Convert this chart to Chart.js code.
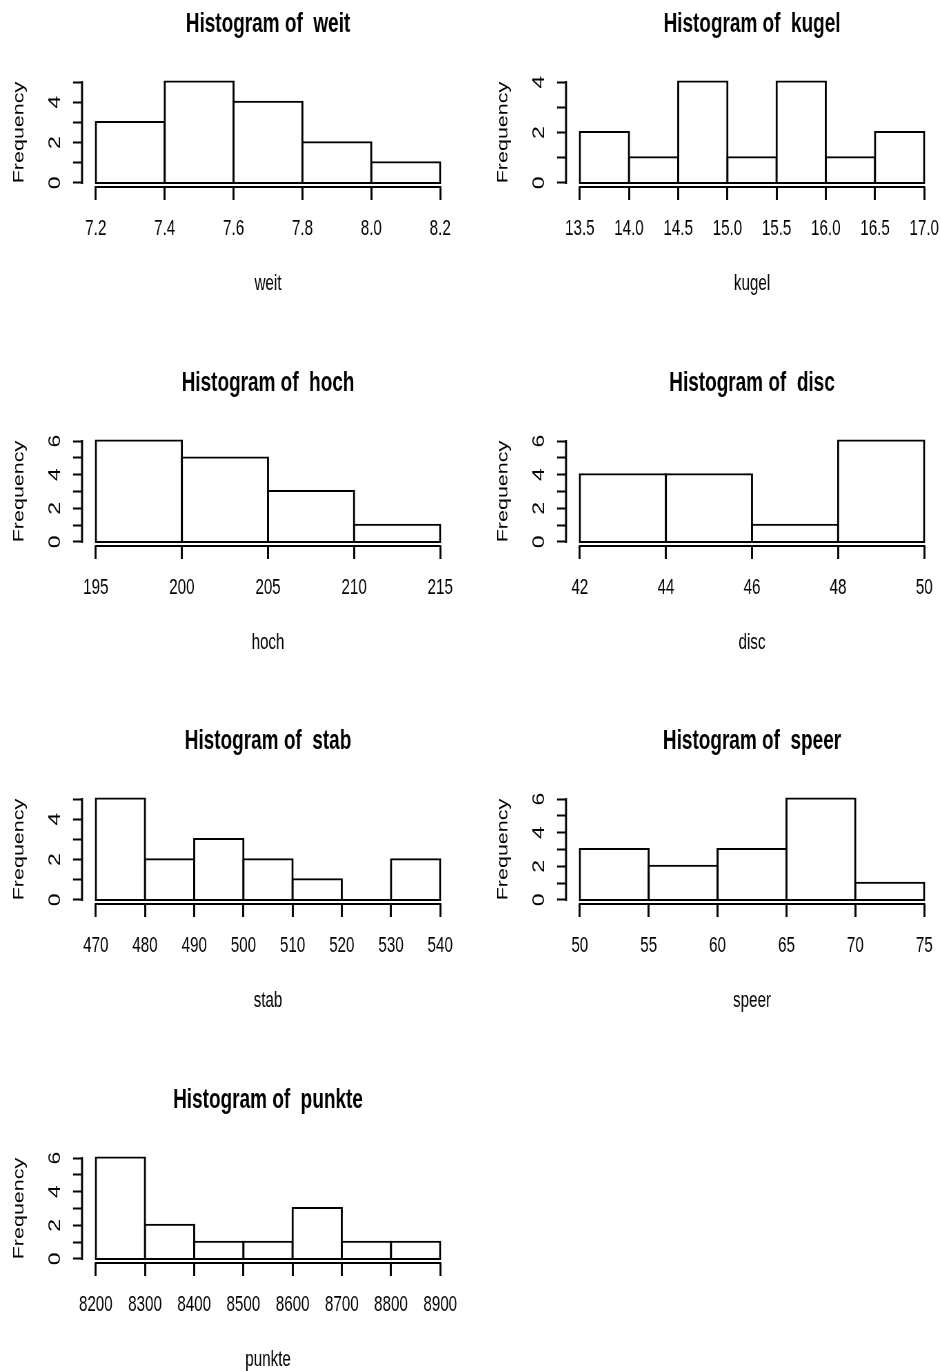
<!DOCTYPE html>
<html>
<head>
<meta charset="utf-8">
<script src="https://cdn.jsdelivr.net/npm/chart.js@4.4.1/dist/chart.umd.min.js"></script>
<style>
  body { margin: 0; width: 941px; height: 1371px; overflow: hidden; background: #fff; position: relative; }
  canvas { position: absolute; }
</style>
</head>
<body>
<script>
// histogram data: breaks, counts per bin, axis labels

const weitBreaks = [7.2, 7.4, 7.6, 7.8, 8.0, 8.2];
const weitCounts = [3, 5, 4, 2, 1];
const weitLabels = ['7.2', '7.4', '7.6', '7.8', '8.0', '8.2'];

const kugelBreaks = [13.5, 14.0, 14.5, 15.0, 15.5, 16.0, 16.5, 17.0];
const kugelCounts = [2, 1, 4, 1, 4, 1, 2];
const kugelLabels = ['13.5', '14.0', '14.5', '15.0', '15.5', '16.0', '16.5', '17.0'];

const hochBreaks = [195, 200, 205, 210, 215];
const hochCounts = [6, 5, 3, 1];
const hochLabels = ['195', '200', '205', '210', '215'];

const discBreaks = [42, 44, 46, 48, 50];
const discCounts = [4, 4, 1, 6];
const discLabels = ['42', '44', '46', '48', '50'];

const stabBreaks = [470, 480, 490, 500, 510, 520, 530, 540];
const stabCounts = [5, 2, 3, 2, 1, 0, 2];
const stabLabels = ['470', '480', '490', '500', '510', '520', '530', '540'];

const speerBreaks = [50, 55, 60, 65, 70, 75];
const speerCounts = [3, 2, 3, 6, 1];
const speerLabels = ['50', '55', '60', '65', '70', '75'];

const punkteBreaks = [8200, 8300, 8400, 8500, 8600, 8700, 8800, 8900];
const punkteCounts = [6, 2, 1, 1, 3, 1, 1];
const punkteLabels = ['8200', '8300', '8400', '8500', '8600', '8700', '8800', '8900'];

// y axis ticks (R draws every integer, labels only every other one)
const yTicks4 = [0, 1, 2, 3, 4];
const yLabels4 = ['0', '', '2', '', '4'];
const yTicks5 = [0, 1, 2, 3, 4, 5];
const yLabels5 = ['0', '', '2', '', '4', ''];
const yTicks6 = [0, 1, 2, 3, 4, 5, 6];
const yLabels6 = ['0', '', '2', '', '4', '', '6'];

const FONT = "'Liberation Sans', Arial, sans-serif";

// the original picture is squeezed horizontally; draw wide and shrink with css
const K = 1.45;
const PANEL_W = 536, PANEL_H = 359;

// R style axis lines: only from first to last tick
const axisLines = {
    id: 'axisLines',
    afterDraw(chart) {
        const { ctx, scales: { x, y } } = chart;
        const xt = x.ticks, yt = y.ticks;
        ctx.save();
        ctx.strokeStyle = '#000';
        ctx.lineCap = 'butt';
        ctx.lineWidth = 2;
        ctx.beginPath();
        ctx.moveTo(x.getPixelForValue(xt[0].value) - K, x.top);
        ctx.lineTo(x.getPixelForValue(xt[xt.length - 1].value) + K, x.top);
        ctx.stroke();
        ctx.lineWidth = 2 * K;
        ctx.beginPath();
        ctx.moveTo(y.right, y.getPixelForValue(yt[0].value) + 1);
        ctx.lineTo(y.right, y.getPixelForValue(yt[yt.length - 1].value) - 1);
        ctx.stroke();
        ctx.restore();
    }
};

function makeHist(name, breaks, counts, xLabels, yTicks, yLabels, left, top) {
    const canvas = document.createElement('canvas');
    canvas.width = Math.round(PANEL_W * K);
    canvas.height = PANEL_H;
    canvas.style.width = PANEL_W + 'px';
    canvas.style.height = PANEL_H + 'px';
    canvas.style.left = left + 'px';
    canvas.style.top = top + 'px';
    document.body.appendChild(canvas);

    const lo = breaks[0], hi = breaks[breaks.length - 1];
    const xPad = (hi - lo) * 0.04;
    const ymax = Math.max(...counts);

    const points = counts.map((c, i) => ({ x: (breaks[i] + breaks[i + 1]) / 2, y: c }));

    new Chart(canvas, {
        type: 'bar',
        data: {
            datasets: [{
                data: points,
                backgroundColor: '#fff',
                borderColor: '#000',
                borderWidth: { top: 2, bottom: 2, left: 2 * K, right: 2 * K },
                borderSkipped: false,
                // empty bins still show as a line on the base, like R's rect()
                inflateAmount: c => (c.raw && c.raw.y === 0 ? 0 : K),
                barPercentage: 1,
                categoryPercentage: 1,
                minBarLength: 2
            }]
        },
        options: {
            responsive: false,
            animation: false,
            devicePixelRatio: 1,
            events: [],
            layout: { padding: 0 },
            plugins: {
                legend: { display: false },
                tooltip: { enabled: false },
                title: {
                    display: true,
                    text: 'Histogram of  ' + name,
                    color: '#000',
                    font: { family: FONT, size: 27.5, weight: 'bold' },
                    padding: { top: 8, bottom: 37 }
                }
            },
            scales: {
                x: {
                    type: 'linear',
                    position: 'bottom',
                    min: lo - xPad,
                    max: hi + xPad,
                    offset: false,
                    afterBuildTicks: s => { s.ticks = breaks.map(v => ({ value: v })); },
                    afterFit: s => { s.height = 172; },
                    grid: { offset: false, drawOnChartArea: false, drawTicks: true, tickLength: 13, tickWidth: 2 * K, tickColor: '#000' },
                    border: { display: false },
                    ticks: {
                        autoSkip: false, minRotation: 0, maxRotation: 0, padding: 15.5, color: '#000',
                        font: { family: FONT, size: 22 },
                        callback: (v, i) => xLabels[i]
                    },
                    title: { display: true, text: name, color: '#000', font: { family: FONT, size: 22 }, padding: { top: 0, bottom: 62 } }
                },
                y: {
                    type: 'linear',
                    position: 'left',
                    min: -ymax * 0.04,
                    max: ymax * 1.04,
                    afterBuildTicks: s => { s.ticks = yTicks.map(v => ({ value: v })); },
                    afterFit: s => { s.width = 82 * K; },
                    grid: { drawOnChartArea: false, drawTicks: true, tickLength: 9 * K, tickWidth: 2, tickColor: '#000' },
                    border: { display: false },
                    ticks: {
                        autoSkip: false, minRotation: 90, maxRotation: 90, crossAlign: 'center', padding: 18.5, color: '#000',
                        font: { family: FONT, size: 23 },
                        callback: (v, i) => yLabels[i]
                    },
                    title: { display: true, text: 'Frequency', color: '#000', font: { family: FONT, size: 21.5 }, padding: { top: 15, bottom: 0 } }
                },
                // empty right margin so the title centres over the plot like R does
                spacer: {
                    type: 'linear',
                    position: 'right',
                    display: true,
                    afterFit: s => { s.width = 82 * K; },
                    grid: { display: false },
                    border: { display: false },
                    ticks: { display: false }
                }
            }
        },
        plugins: [axisLines]
    });
}

const colX = [0, 484];
const rowY = [0, 359, 717, 1076];

makeHist('weit', weitBreaks, weitCounts, weitLabels, yTicks5, yLabels5, colX[0], rowY[0]);
makeHist('kugel', kugelBreaks, kugelCounts, kugelLabels, yTicks4, yLabels4, colX[1], rowY[0]);
makeHist('hoch', hochBreaks, hochCounts, hochLabels, yTicks6, yLabels6, colX[0], rowY[1]);
makeHist('disc', discBreaks, discCounts, discLabels, yTicks6, yLabels6, colX[1], rowY[1]);
makeHist('stab', stabBreaks, stabCounts, stabLabels, yTicks5, yLabels5, colX[0], rowY[2]);
makeHist('speer', speerBreaks, speerCounts, speerLabels, yTicks6, yLabels6, colX[1], rowY[2]);
makeHist('punkte', punkteBreaks, punkteCounts, punkteLabels, yTicks6, yLabels6, colX[0], rowY[3]);
</script>
</body>
</html>
